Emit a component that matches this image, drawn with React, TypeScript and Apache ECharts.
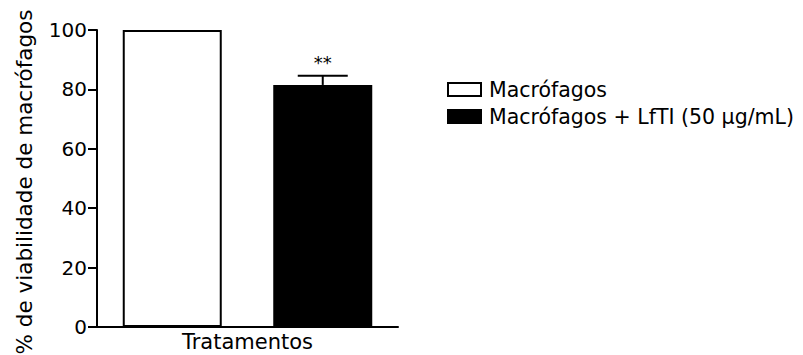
import React, { useEffect, useRef } from "react";
import * as echarts from "echarts";

const categories = ["Macrófagos", "Macrófagos + LfTI (50 µg/mL)"];
const seriesNames = ["Macrófagos", "Macrófagos + LfTI (50 µg/mL)"];
const controlValues: (number | string)[] = [100, "-"];
const treatedValues: (number | string)[] = ["-", 81.5];
// [categoryIndex, mean, mean + SEM]
const errorBars = [[1, 81.5, 84.6]];
const significance = ["**"];
const yTicks = { min: 0, max: 100, interval: 20 };
const yTitle = "% de viabilidade de macrófagos";
const xTitle = "Tratamentos";

const FONT = "DejaVu Sans";

export default function App() {
  const ref = useRef<HTMLDivElement>(null);
  useEffect(() => {
    if (!ref.current) return;
    const chart = echarts.init(ref.current, undefined, { renderer: "svg" });
    chart.setOption({
      animation: false,
      backgroundColor: "#ffffff",
      textStyle: { fontFamily: FONT, color: "#000" },
      grid: {
        left: 97,
        right: 405,
        top: 30,
        bottom: 28,
        containLabel: false,
        outerBoundsMode: "none",
      },
      legend: {
        orient: "vertical",
        left: 442,
        top: 74,
        itemWidth: 33,
        itemHeight: 13,
        itemGap: 6,
        icon: "rect",
        data: seriesNames,
        textStyle: { fontFamily: FONT, fontSize: 20.5, color: "#000", padding: [0, 0, 0, 3] },
      },
      xAxis: {
        type: "category",
        data: categories,
        axisLine: { lineStyle: { color: "#000", width: 2 } },
        axisTick: { show: false },
        axisLabel: { show: false },
        name: xTitle,
        nameLocation: "middle",
        nameGap: 4,
        nameTextStyle: { fontFamily: FONT, fontSize: 21, color: "#000", verticalAlign: "top" },
      },
      yAxis: {
        type: "value",
        min: yTicks.min,
        max: yTicks.max,
        interval: yTicks.interval,
        splitLine: { show: false },
        axisLine: { show: true, lineStyle: { color: "#000", width: 2 } },
        axisTick: { show: true, length: 9, lineStyle: { color: "#000", width: 2 } },
        axisLabel: { fontFamily: FONT, fontSize: 20, color: "#000", margin: 10 },
        name: yTitle,
        nameLocation: "middle",
        nameGap: 62,
        nameRotate: 90,
        nameTextStyle: { fontFamily: FONT, fontSize: 21.5, color: "#000", padding: [0, 7, 0, 0] },
      },
      series: [
        {
          name: seriesNames[0],
          type: "bar",
          data: controlValues,
          barWidth: 99,
          barGap: "-100%",
          itemStyle: { color: "#ffffff", borderColor: "#000", borderWidth: 2 },
        },
        {
          name: seriesNames[1],
          type: "bar",
          data: treatedValues,
          barWidth: 99,
          barGap: "-100%",
          itemStyle: { color: "#000000", borderColor: "#000", borderWidth: 2 },
        },
        {
          type: "custom",
          name: "erro",
          data: errorBars,
          z: 5,
          renderItem: (params: any, api: any) => {
            const cat = api.value(0);
            const mean = api.coord([cat, api.value(1)]);
            const high = api.coord([cat, api.value(2)]);
            const half = 25;
            const label = significance[params.dataIndex];
            return {
              type: "group",
              children: [
                {
                  type: "line",
                  shape: { x1: mean[0], y1: mean[1], x2: high[0], y2: high[1] },
                  style: { stroke: "#000", lineWidth: 2 },
                },
                {
                  type: "line",
                  shape: { x1: high[0] - half, y1: high[1], x2: high[0] + half, y2: high[1] },
                  style: { stroke: "#000", lineWidth: 2 },
                },
                {
                  type: "text",
                  x: high[0],
                  y: high[1] - 13,
                  style: {
                    text: label,
                    fontFamily: FONT,
                    fontSize: 18,
                    fill: "#000",
                    align: "center",
                    verticalAlign: "middle",
                  },
                },
              ],
            };
          },
        },
      ],
    });
    return () => chart.dispose();
  }, []);
  return (
    <div
      ref={ref}
      style={{ position: "fixed", left: 0, top: 0, width: 803, height: 355, background: "#fff" }}
    />
  );
}
